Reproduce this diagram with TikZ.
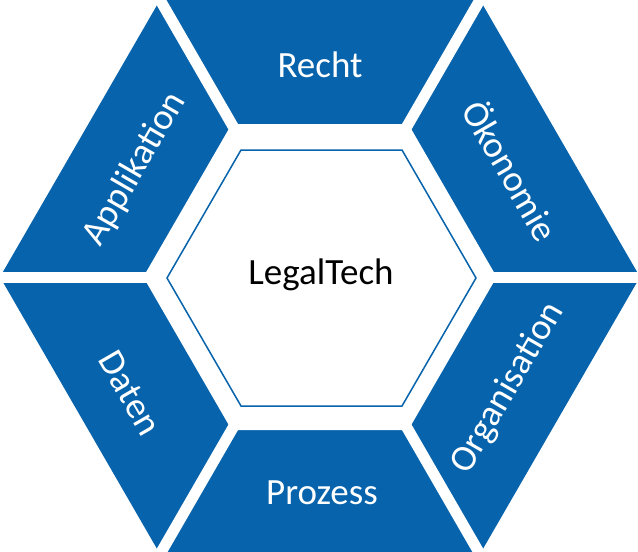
\documentclass[tikz,border=0pt]{standalone}
\usepackage{fontspec}
\setmainfont{Carlito}
\usetikzlibrary{calc}
\definecolor{hexblue}{RGB}{6,99,172}
\tikzset{
  seglabel/.style={text=white,font=\fontsize{37}{40}\selectfont,inner sep=0pt},
  gapline/.style={white,line width=11pt},
  corelabel/.style={text=black,font=\fontsize{37}{40}\selectfont,inner sep=0pt}
}
\begin{document}
\begin{tikzpicture}[x=1pt,y=-1pt]
\useasboundingbox (0,0) rectangle (638,552);
\coordinate (C) at (320,277);
% outer hexagon
\fill[hexblue] (0,277) -- (160,0) -- (480,0) -- (640,277) -- (480,554) -- (160,554) -- cycle;
% middle white hexagon
\fill[white] (143.3,277) -- (231.7,124) -- (408.3,124) -- (496.7,277) -- (408.3,430) -- (231.7,430) -- cycle;
% gaps
\foreach \a in {0,60,...,300} \draw[gapline] (C) -- ++(\a:380);
% inner hexagon
\draw[hexblue,line width=1.5pt,fill=white] (167,278) -- (241,150) -- (402,150) -- (476,278) -- (402,406) -- (241,406) -- cycle;
\node[corelabel] (core) at (321,275) {LegalTech};
\node[seglabel] (recht) at (320,65) {Recht};
\node[seglabel] (prozess) at (322,493) {Prozess};
\node[seglabel,rotate=60] (appl) at (135,169) {Applikation};
\node[seglabel,rotate=-60] (oeko) at (512,170) {Ökonomie};
\node[seglabel,rotate=-60] (daten) at (130,393) {Daten};
\node[seglabel,rotate=60] (orga) at (508,388) {Organisation};
\end{tikzpicture}
\end{document}
